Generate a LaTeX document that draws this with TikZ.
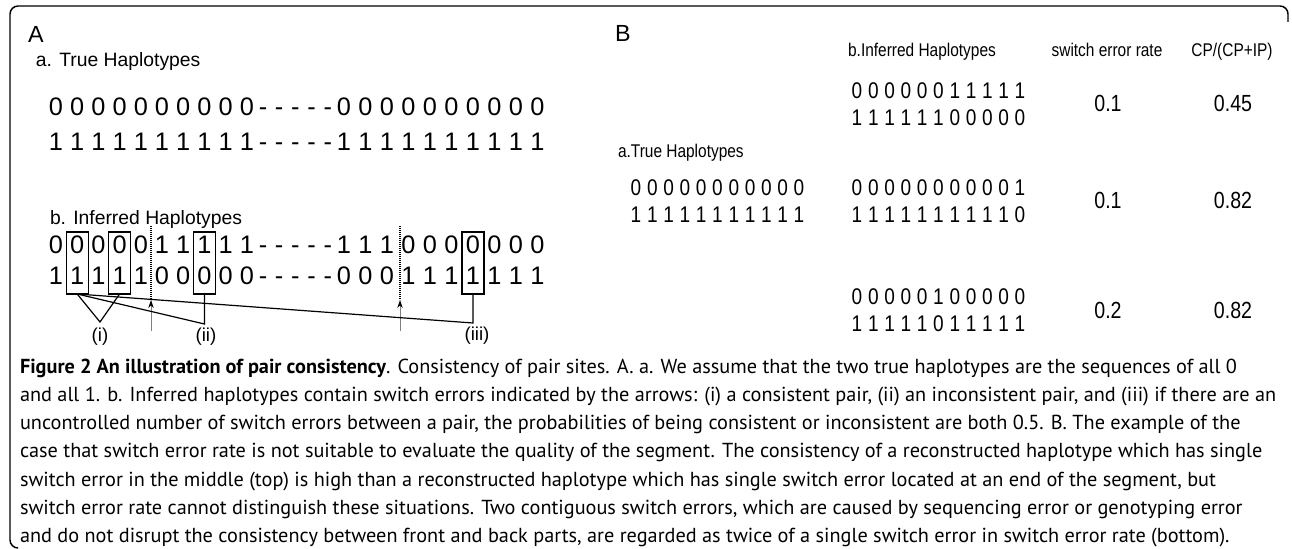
\documentclass[tikz,border=0pt]{standalone}
\usepackage{fontspec}
\setmainfont{Liberation Sans}
\newfontfamily\af{Liberation Sans}
\newfontfamily\afc{Liberation Sans}[FakeStretch=0.84]
\newfontfamily\capf{PT Sans}
\usetikzlibrary{arrows.meta}
\newcommand\digrow[5]{% name, x0, y, pitch, digits
  \foreach \d [count=\k from 0] in {#5} {\node[bdig] (#1-\k) at ({#2+#4*\k},#3) {\d};}}
\begin{document}
\begin{tikzpicture}[x=0.75pt,y=-0.75pt,
  every node/.style={inner sep=0pt, outer sep=0pt},
  panel/.style={font=\af\fontsize{17.5}{19}\selectfont, anchor=base west},
  sub/.style={font=\af\fontsize{14.5}{16}\selectfont, anchor=base west},
  dig/.style={font=\af\fontsize{19}{21}\selectfont, anchor=base},
  bdig/.style={font=\afc\fontsize{17}{19}\selectfont, anchor=base},
  hdr/.style={font=\afc\fontsize{13.8}{15}\selectfont, anchor=base},
  val/.style={font=\afc\fontsize{17.5}{19}\selectfont, anchor=base},
  lab/.style={font=\af\fontsize{14}{16}\selectfont, anchor=center},
  selbox/.style={draw, line width=0.9pt, minimum width=16.5pt, minimum height=46.5pt},
  conn/.style={line width=0.9pt},
  dots/.style={dash pattern=on 0.6pt off 0.9pt, line width=0.8pt},
  up/.style={draw=gray, line width=0.7pt, -{Stealth[length=6pt,width=4pt,color=black]}},
  outerframe/.style={line width=1.1pt, rounded corners=6pt},
  captxt/.style={font=\capf\fontsize{15.2}{17}\selectfont, anchor=base west}
]
\useasboundingbox (0,0) rectangle (1292,549);
% frame
\draw[outerframe] (17,548) -- (10,548) -- (10,6) -- (1288,6) -- (1288,22);

% ---------- Part A ----------
\node[panel] (lblA) at (28,43) {A};
\node[sub] (ta) at (36,67) {a. True Haplotypes};
\foreach \i in {0,...,9} {
  \node[dig] (aa0-\i) at ({56+21.2*\i},116) {0};
  \node[dig] (aa1-\i) at ({56+21.2*\i},150.5) {1};
  \node[dig] (ab0-\i) at ({344+21.5*\i},116) {0};
  \node[dig] (ab1-\i) at ({344+21.5*\i},150.5) {1};
}
\foreach \j in {0,...,4} {
  \node[dig] (ad0-\j) at ({263+16.2*\j},116) {-};
  \node[dig] (ad1-\j) at ({263+16.2*\j},150.5) {-};
  \node[dig] (bd0-\j) at ({263+16.2*\j},253) {-};
  \node[dig] (bd1-\j) at ({263+16.2*\j},284) {-};
}
\node[sub] (tb) at (50,224) {b. Inferred Haplotypes};
\foreach \t/\b [count=\i from 0] in {0/1,0/1,0/1,0/1,0/1,1/0,1/0,1/0,1/0,1/0} {
  \node[dig] (bt\i) at ({56+21.2*\i},253) {\t};
  \node[dig] (bb\i) at ({56+21.2*\i},284) {\b};
}
\foreach \t/\b [count=\i from 0] in {1/0,1/0,1/0,0/1,0/1,0/1,0/1,0/1,0/1,0/1} {
  \node[dig] (ct\i) at ({344+21.5*\i},253) {\t};
  \node[dig] (cb\i) at ({344+21.5*\i},284) {\b};
}
% boxes
\node[selbox] (box1) at (77.2,263) {};
\node[selbox] (box2) at (119.6,263) {};
\node[selbox] (box3) at (204.4,263) {};
\node[selbox] (box4) at (473,263) {};
% switch points
\coordinate (d1t) at (151,226);
\coordinate (d1b) at (151,300);
\coordinate (a1s) at (151,331);
\coordinate (d2t) at (400,226);
\coordinate (d2b) at (400,300);
\coordinate (a2s) at (400,331);
\draw[dots] (d1t) -- (d1b);
\draw[dots] (d2t) -- (d2b);
\draw[up] (a1s) -- (d1b);
\draw[up] (a2s) -- (d2b);
% pair connectors
\coordinate (api) at (100,322);
\coordinate (apii) at (204.4,324);
\coordinate (apiii) at (473,323);
\draw[conn] (box1.south) -- (api) -- (box2.south);
\draw[conn] (box1.south) -- (apii) -- (box3.south);
\draw[conn] (box1.south) -- (apiii) -- (box4.south);
\node[lab] (li) at (100,337) {(i)};
\node[lab] (lii) at (206,337) {(ii)};
\node[lab] (liii) at (477,336) {(iii)};

% ---------- Part B ----------
\node[panel] (lblB) at (615,42) {B};
\node[hdr] (hB1) at (922,57) {b.Inferred Haplotypes};
\node[hdr] (hB2) at (1107,57) {switch error rate};
\node[hdr] (hB3) at (1232,57) {CP/(CP+IP)};
\node[hdr, anchor=base west] (hB4) at (618,158) {a.True Haplotypes};
\digrow{r1a}{857}{98.5}{16.3}{0,0,0,0,0,0,1,1,1,1,1}
\digrow{r1b}{857}{125.5}{16.3}{1,1,1,1,1,1,0,0,0,0,0}
\digrow{ta}{636}{195.5}{16.3}{0,0,0,0,0,0,0,0,0,0,0}
\digrow{tb}{636}{222.5}{16.3}{1,1,1,1,1,1,1,1,1,1,1}
\digrow{r2a}{857}{195.5}{16.3}{0,0,0,0,0,0,0,0,0,0,1}
\digrow{r2b}{857}{222.5}{16.3}{1,1,1,1,1,1,1,1,1,1,0}
\digrow{r3a}{857}{304.5}{16.3}{0,0,0,0,0,1,0,0,0,0,0}
\digrow{r3b}{857}{331.5}{16.3}{1,1,1,1,1,0,1,1,1,1,1}
\node[val] (s1) at (1108,112) {0.1};
\node[val] (c1) at (1233,112) {0.45};
\node[val] (s2) at (1108,209) {0.1};
\node[val] (c2) at (1233,209) {0.82};
\node[val] (s3) at (1108,318) {0.2};
\node[val] (c3) at (1233,318) {0.82};

% ---------- Caption ----------
\node[captxt] (cl1) at (20,373) {{\bfseries Figure 2 An illustration of pair consistency}. Consistency of pair sites. A. a. We assume that the two true haplotypes are the sequences of all 0};
\node[captxt] (cl2) at (20,401) {and all 1. b. Inferred haplotypes contain switch errors indicated by the arrows: (i) a consistent pair, (ii) an inconsistent pair, and (iii) if there are an};
\node[captxt] (cl3) at (20,429) {uncontrolled number of switch errors between a pair, the probabilities of being consistent or inconsistent are both 0.5. B. The example of the};
\node[captxt] (cl4) at (20,457.5) {case that switch error rate is not suitable to evaluate the quality of the segment. The consistency of a reconstructed haplotype which has single};
\node[captxt] (cl5) at (20,486) {switch error in the middle (top) is high than a reconstructed haplotype which has single switch error located at an end of the segment, but};
\node[captxt] (cl6) at (20,514) {switch error rate cannot distinguish these situations. Two contiguous switch errors, which are caused by sequencing error or genotyping error};
\node[captxt] (cl7) at (20,542) {and do not disrupt the consistency between front and back parts, are regarded as twice of a single switch error in switch error rate (bottom).};
\end{tikzpicture}
\end{document}
